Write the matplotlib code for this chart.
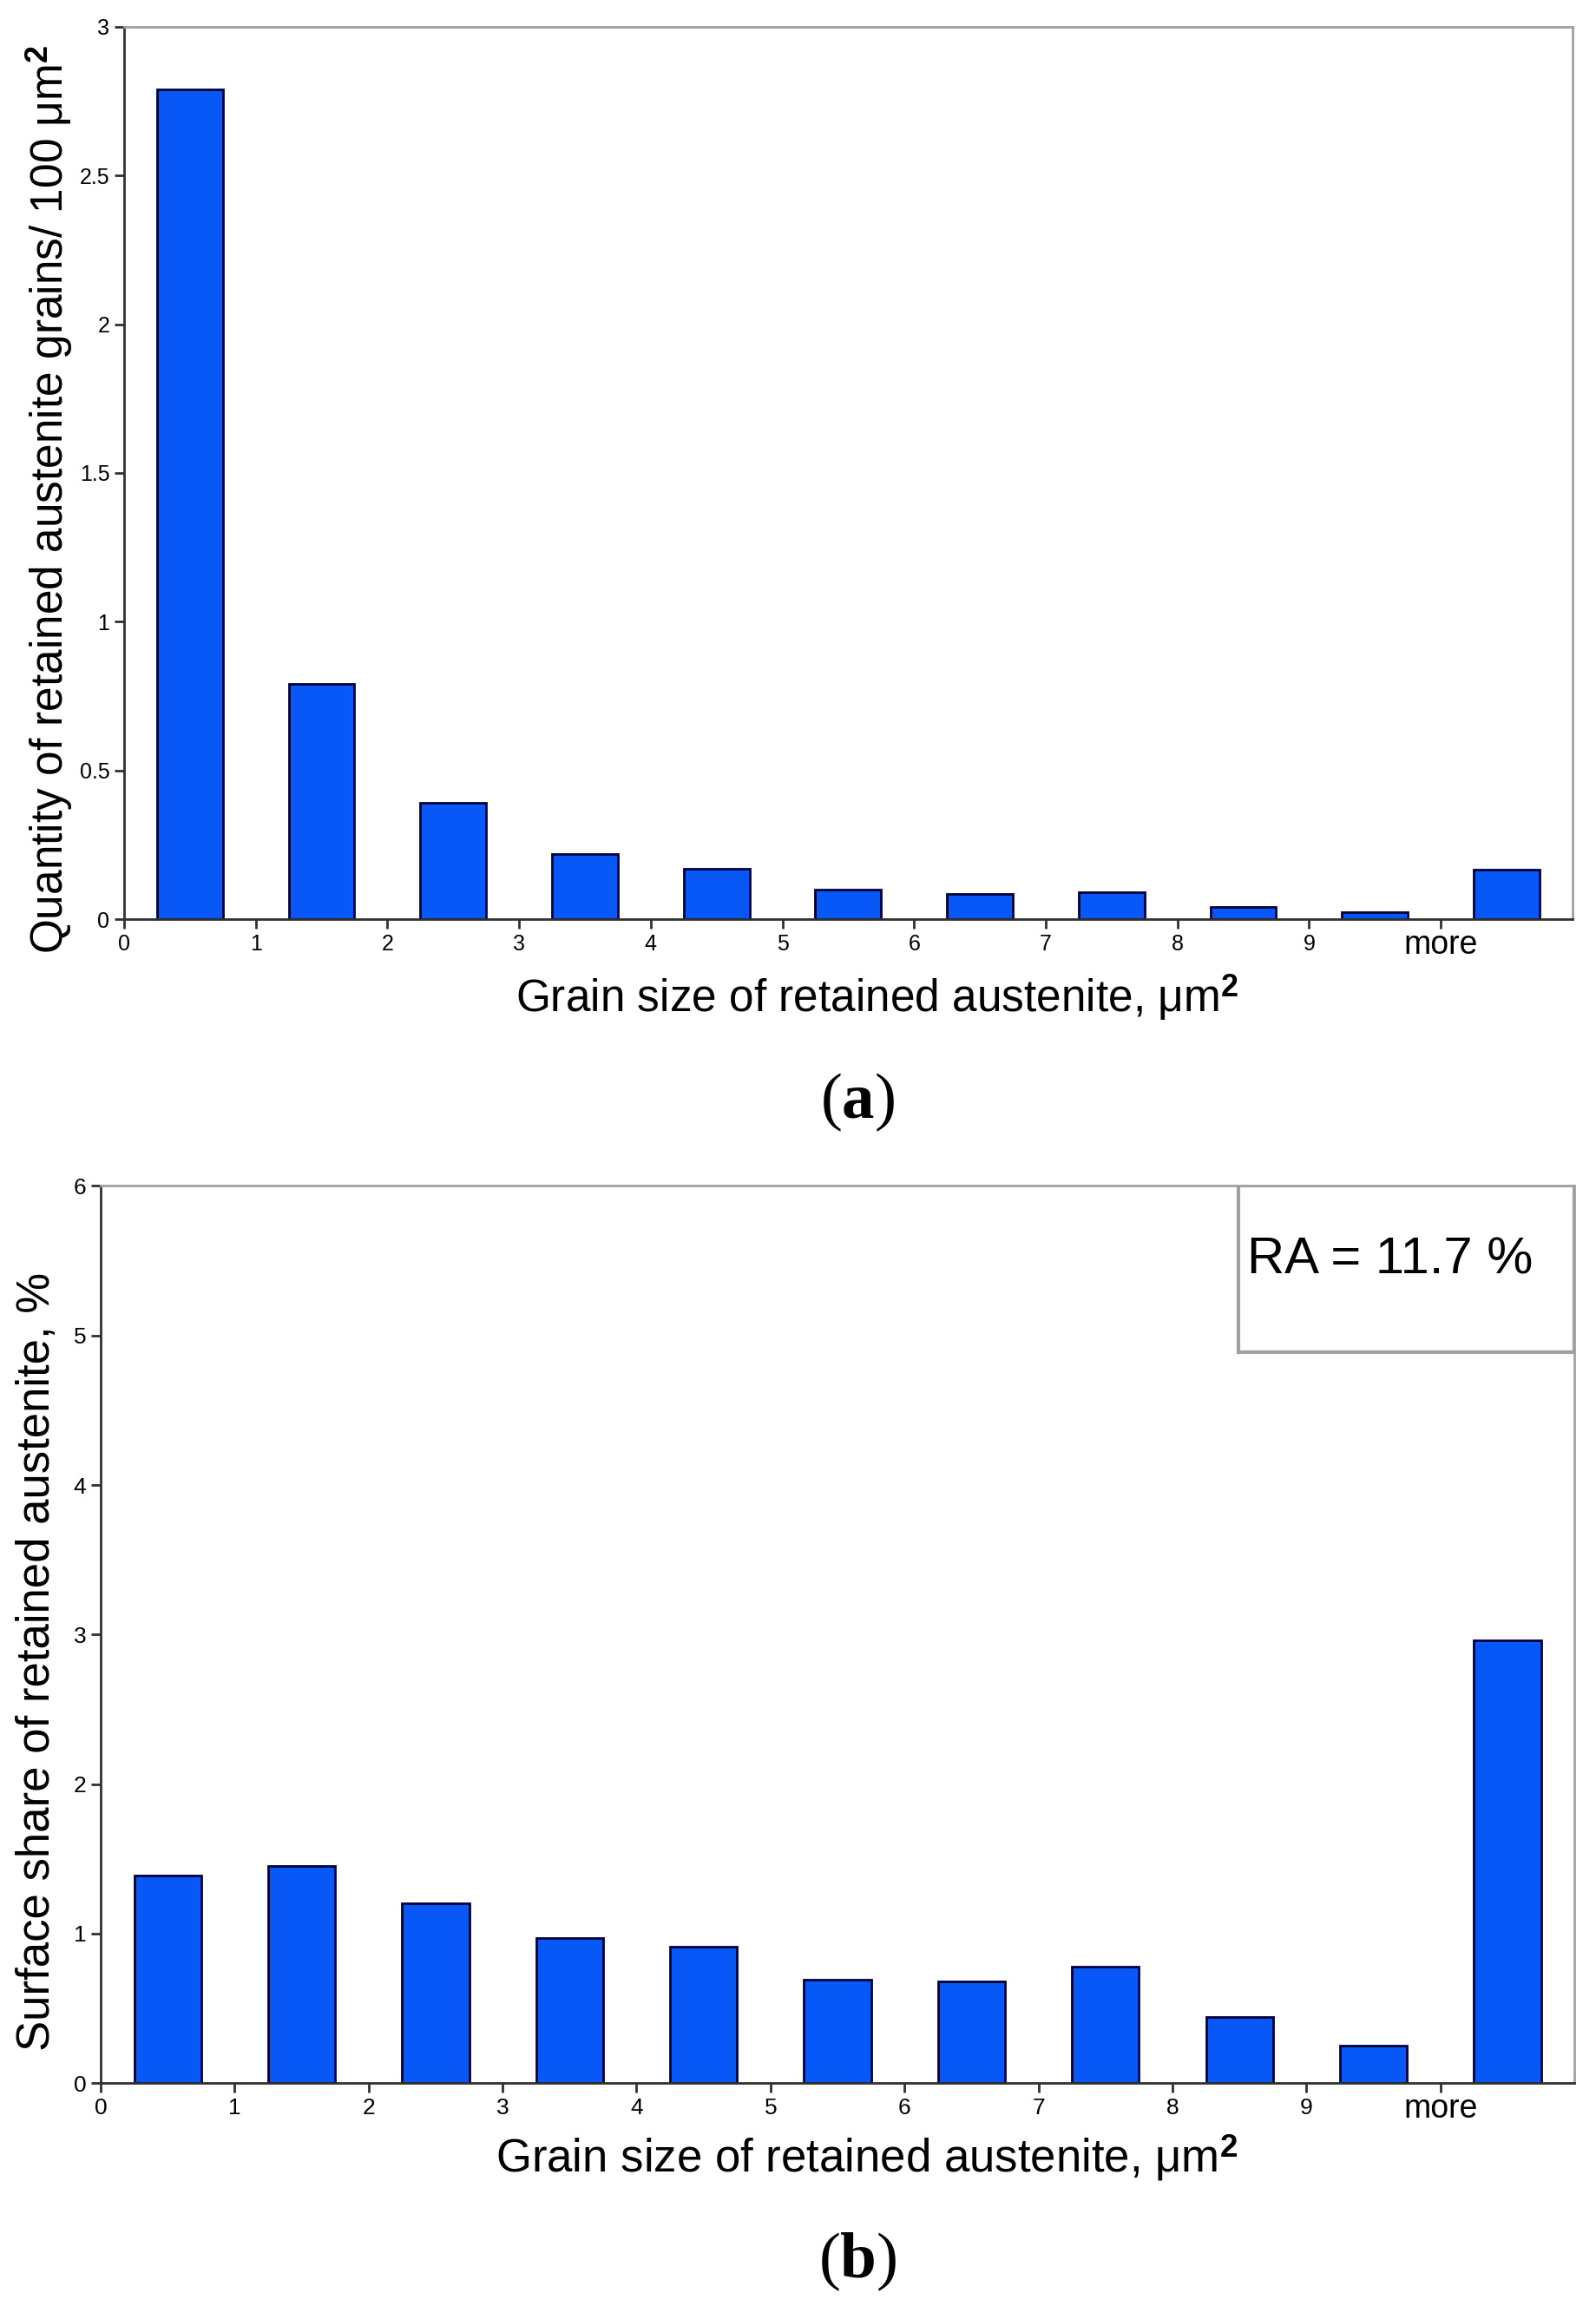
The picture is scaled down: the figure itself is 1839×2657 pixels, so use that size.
import matplotlib
matplotlib.use("Agg")
import matplotlib.pyplot as plt
from matplotlib.patches import Rectangle
from matplotlib.transforms import ScaledTranslation
import numpy as np

plt.rcParams["font.family"] = ["Liberation Sans", "DejaVu Sans"]
plt.rcParams["mathtext.fontset"] = "custom"
plt.rcParams["mathtext.rm"] = "Liberation Sans"
plt.rcParams["mathtext.bf"] = "Liberation Sans:bold"
plt.rcParams["mathtext.sf"] = "Liberation Serif"
plt.rcParams["mathtext.it"] = "Liberation Serif:bold"

# bins of grain size (um^2), last bin is "more"
tick_labels = ["0", "1", "2", "3", "4", "5", "6", "7", "8", "9", "more"]
bin_centers = np.arange(11) + 0.5

quantity = [2.79, 0.79, 0.39, 0.22, 0.17, 0.10, 0.084, 0.09, 0.041, 0.024, 0.166]
surface_share = [1.39, 1.45, 1.20, 0.97, 0.91, 0.69, 0.68, 0.78, 0.44, 0.25, 2.96]

BAR_COLOR = "#0858f8"
EDGE_COLOR = "#00003a"


def style_axes(ax, ymax, ystep, tick_size):
    ax.set_xlim(0, 11)
    ax.set_ylim(0, ymax)
    ax.set_xticks(np.arange(11))
    ax.set_xticklabels(tick_labels)
    yt = np.arange(0, ymax + ystep / 2, ystep)
    ax.set_yticks(yt)
    ax.set_yticklabels([f"{v:g}" for v in yt])
    for s in ("top", "right"):
        ax.spines[s].set_color("#a0a0a0")
        ax.spines[s].set_linewidth(2)
    for s in ("left", "bottom"):
        ax.spines[s].set_color("#303030")
        ax.spines[s].set_linewidth(2)
    ax.tick_params(axis="both", direction="out", length=8, width=2,
                   color="#303030", labelsize=tick_size, pad=4)
    more = ax.get_xticklabels()[-1]
    more.set_fontsize(27)
    # lift the bigger "more" label so it lines up with the digits
    more.set_transform(more.get_transform()
                       + ScaledTranslation(0, 0.05, ax.figure.dpi_scale_trans))


fig = plt.figure(figsize=(18.4, 26.57), dpi=100)

# (a) quantity of grains
ax1 = fig.add_axes([0.0777, 0.6014, 0.907, 0.387])
ax1.bar(bin_centers, quantity, width=0.5, color=BAR_COLOR,
        edgecolor=EDGE_COLOR, linewidth=2)
style_axes(ax1, 3, 0.5, 18)
ax1.set_xlabel(r"Grain size of retained austenite, μm$^{\mathbf{2}}$", fontsize=37)
ax1.xaxis.set_label_coords(0.52, -0.088)
ax1.xaxis.label.set_va("center")
ax1.set_ylabel(r"Quantity of retained austenite grains/ 100 μm$^{\mathbf{2}}$", fontsize=37)
ax1.yaxis.set_label_coords(-0.051, 0.47)
ax1.yaxis.label.set_va("center")

# (b) surface share
ax2 = fig.add_axes([0.063, 0.0967, 0.923, 0.389])
ax2.bar(bin_centers, surface_share, width=0.5, color=BAR_COLOR,
        edgecolor=EDGE_COLOR, linewidth=2)
style_axes(ax2, 6, 1, 19)
ax2.set_xlabel(r"Grain size of retained austenite, μm$^{\mathbf{2}}$", fontsize=38)
ax2.xaxis.set_label_coords(0.52, -0.083)
ax2.xaxis.label.set_va("center")
ax2.set_ylabel("Surface share of retained austenite, %", fontsize=38)
ax2.yaxis.set_label_coords(-0.043, 0.47)
ax2.yaxis.label.set_va("center")

ax2.add_patch(Rectangle((0.772, 0.815), 0.228, 0.185, transform=ax2.transAxes,
                        fill=False, edgecolor="#a0a0a0", linewidth=3, zorder=5))
ax2.text(0.778, 0.917, "RA = 11.7 %", transform=ax2.transAxes,
         ha="left", va="center", fontsize=43)

fig.text(0.537, 0.522, r"$\mathsf{(}\mathit{a}\mathsf{)}$", ha="center", va="center",
         fontsize=54)
fig.text(0.537, 0.019, r"$\mathsf{(}\mathit{b}\mathsf{)}$", ha="center", va="center",
         fontsize=54)

fig.savefig("out.png", dpi=100, facecolor="white")
